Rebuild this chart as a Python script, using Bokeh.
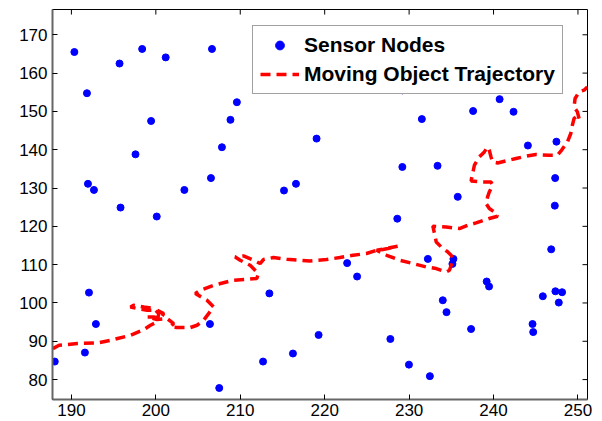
from bokeh.plotting import figure
from bokeh.models import Range1d, FixedTicker, Legend, LegendItem
from bokeh.embed import file_html
from bokeh.resources import INLINE

# Sensor node positions
sensor_x = [190.35, 191.84, 191.96, 192.67, 195.70, 195.82, 198.38, 197.59, 199.44, 201.17,
            203.38, 206.65, 206.53, 207.83, 208.84, 209.60, 215.18, 216.60,
            229.20, 219.04, 231.51, 237.58, 240.72, 242.37, 229.20, 233.37, 244.07, 247.45,
            235.76, 247.30, 247.26,
            200.11, 192.08, 192.90, 188.03, 191.60, 206.41, 207.51, 213.45, 212.70, 216.24,
            228.60, 222.66, 223.84, 232.22, 235.25, 235.13, 246.83, 219.28, 227.78, 229.98,
            232.46, 233.99, 234.43, 237.34, 239.19, 239.47, 244.62, 244.70, 245.84, 247.33,
            248.12, 247.73]
sensor_y = [165.5, 154.75, 131.1, 129.5, 162.5, 124.9, 166.3, 138.8, 147.5, 164.1,
            129.5, 166.3, 132.6, 140.65, 147.8, 152.4, 129.35, 131.1,
            155.5, 142.9, 148.0, 150.1, 153.2, 149.9, 135.5, 135.8, 141.1, 142.1,
            127.7, 132.6, 125.4,
            122.56, 102.7, 94.5, 84.7, 87.05, 94.5, 77.8, 102.5, 84.7, 86.8,
            122.0, 110.4, 106.9, 111.5, 111.5, 110.2, 114.0, 91.65, 90.6, 83.9,
            80.9, 100.7, 97.6, 93.2, 105.6, 104.3, 94.5, 92.4, 101.75, 103.05,
            102.8, 100.1]

# Moving object trajectory
traj_x = [187.80, 188.54, 190.71, 193.07, 194.64, 197.00, 198.57, 199.36, 200.15, 200.34,
          199.75, 198.57, 197.36, 197.00, 197.79, 198.97, 200.15, 200.93, 200.54, 199.75,
          198.97, 200.15, 201.33, 202.11, 201.72, 202.51, 204.08, 204.88, 205.66, 206.84,
          206.06, 204.68, 205.27, 206.84, 209.20, 211.96, 212.15, 211.17, 209.99, 209.40,
          210.38, 211.56, 212.35, 212.74, 213.92, 215.50, 217.07, 218.25, 220.22, 221.79,
          223.36, 224.95, 225.93, 226.91, 228.64, 226.16, 227.34, 228.88, 230.45, 232.03,
          233.21, 234.39, 234.78, 234.98, 235.17, 234.98, 234.58, 233.80, 233.21, 233.01,
          232.81, 234.39, 235.96, 236.94, 237.93, 239.50, 240.48, 240.09, 239.50, 239.11,
          239.30, 239.50, 239.89, 239.70, 238.71, 237.34, 237.53, 237.73, 238.32, 238.91,
          239.30, 239.50, 239.70, 239.89, 240.48, 241.48, 242.66, 243.84, 245.02, 246.59,
          247.57, 247.97, 248.75, 249.15, 249.34, 249.54, 249.93, 250.13, 249.93, 249.54,
          249.66, 250.13, 250.72, 251.11]
traj_y = [88.09, 88.96, 89.40, 89.56, 90.26, 91.57, 93.05, 94.18, 95.04, 97.23,
          98.54, 98.96, 99.40, 98.96, 98.54, 98.09, 98.09, 97.23, 95.93, 96.34,
          96.34, 95.67, 95.93, 94.62, 93.73, 93.58, 93.58, 94.18, 95.48, 98.96,
          100.70, 102.45, 103.32, 104.62, 105.93, 106.37, 107.68, 109.84, 111.15, 112.01,
          112.27, 111.15, 110.29, 111.33, 111.85, 111.41, 111.15, 110.97, 111.33, 111.85,
          112.45, 112.90, 113.58, 113.94, 114.80, 113.76, 112.45, 111.15, 110.29, 109.40,
          108.98, 108.09, 108.54, 109.84, 111.59, 112.45, 113.32, 114.62, 115.93, 118.12,
          120.03, 119.84, 119.43, 120.29, 120.89, 122.04, 122.64, 123.76, 124.65, 125.95,
          127.68, 128.98, 130.73, 131.59, 131.59, 131.85, 133.79, 135.95, 138.12, 139.43,
          140.73, 139.87, 138.12, 136.81, 136.55, 137.08, 137.70, 138.30, 138.75, 138.56,
          138.56, 139.61, 142.04, 144.23, 146.40, 148.15, 149.01, 148.15, 149.87, 151.17,
          153.37, 155.09, 155.54, 156.40]

x_ticks = [190, 200, 210, 220, 230, 240, 250]
y_ticks = [80, 90, 100, 110, 120, 130, 140, 150, 160, 170]

FONT = "Liberation Sans"
X0, X1 = 187.76, 251.13
Y0, Y1 = 74.8, 176.6
W, H = 602, 421
BL, BR, BT, BB = 52, 15, 9, 22

p = figure(width=W, height=H,
           x_range=Range1d(X0, X1), y_range=Range1d(Y0, Y1),
           output_backend="svg", toolbar_location=None,
           min_border_left=BL, min_border_right=BR, min_border_top=BT, min_border_bottom=BB)
p.xgrid.visible = False
p.ygrid.visible = False
p.outline_line_color = "black"
p.outline_line_width = 1
p.background_fill_color = "white"
p.border_fill_color = "white"

for ax, ticks in ((p.xaxis[0], x_ticks), (p.yaxis[0], y_ticks)):
    ax.ticker = FixedTicker(ticks=ticks)
    ax.major_tick_in = 5
    ax.major_tick_out = 0
    ax.minor_tick_line_color = None
    ax.major_tick_line_color = "black"
    ax.axis_line_color = "#666666"
    ax.axis_line_width = 2
    ax.major_label_text_font = FONT
    ax.major_label_text_font_size = "17px"
    ax.major_label_text_color = "black"
p.xaxis[0].major_label_standoff = 4
p.yaxis[0].major_label_standoff = 5

# mirrored tick marks on the top and right edges (5 px long)
frame_w = W - BL - BR
frame_h = H - BT - BB - 4
tick_dy = 5 * (Y1 - Y0) / frame_h
tick_dx = 5 * (X1 - X0) / frame_w
p.segment(x0=x_ticks, y0=[Y1] * len(x_ticks), x1=x_ticks, y1=[Y1 - tick_dy] * len(x_ticks),
          line_color="black", line_width=1)
p.segment(x0=[X1] * len(y_ticks), y0=y_ticks, x1=[X1 - tick_dx] * len(y_ticks), y1=y_ticks,
          line_color="black", line_width=1)

sc = p.scatter(sensor_x, sensor_y, size=7, color="#0000FF", line_color="#0000FF")
ln = p.line(traj_x, traj_y, line_color="#FF0000", line_width=3.5, line_dash="10 6")

legend = Legend(items=[LegendItem(label="Sensor Nodes", renderers=[sc]),
                       LegendItem(label="Moving Object Trajectory", renderers=[ln])],
                location=(200, 305))
legend.label_text_font = FONT
legend.label_text_font_size = "21px"
legend.label_text_font_style = "bold"
legend.label_text_color = "black"
legend.glyph_width = 39
legend.glyph_height = 22
legend.label_height = 22
legend.label_standoff = 5
legend.spacing = 5
legend.padding = 7
legend.margin = 0
legend.border_line_color = "#444444"
legend.border_line_width = 1
legend.background_fill_alpha = 1
p.add_layout(legend, "center")

open("out.html", "w").write(file_html(p, INLINE))
